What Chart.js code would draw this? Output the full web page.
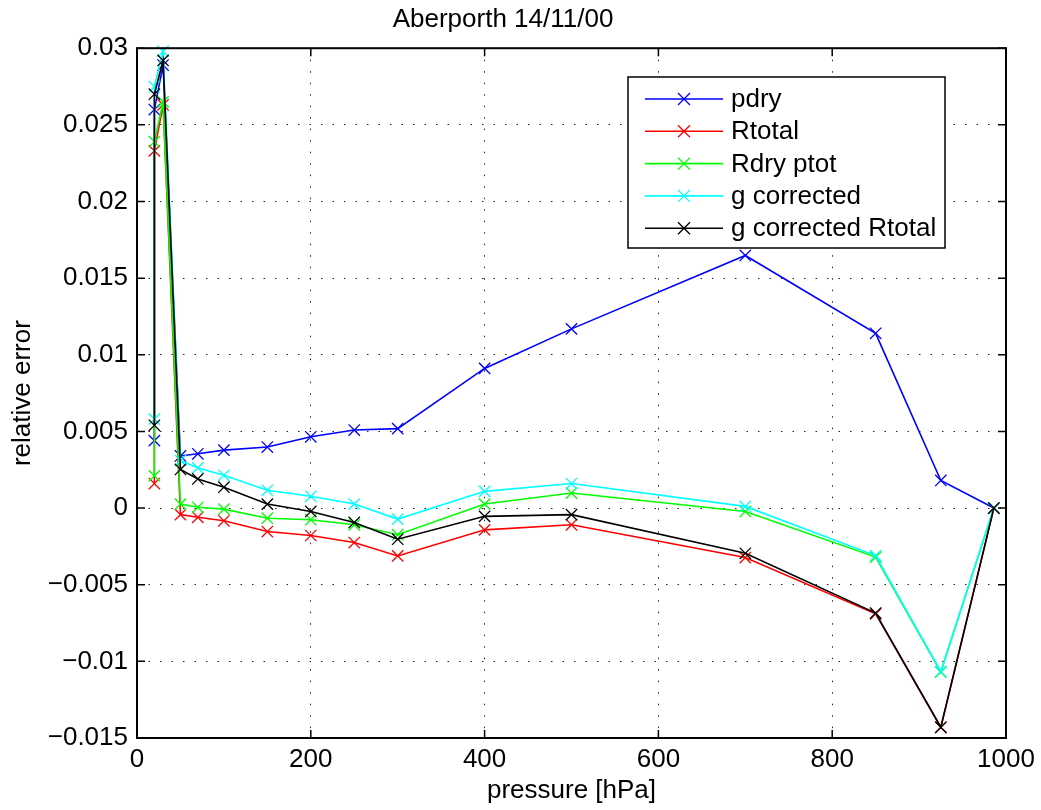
<!DOCTYPE html>
<html>
<head>
<meta charset="utf-8">
<script src="https://cdn.jsdelivr.net/npm/chart.js@4"></script>
<style>
  body { margin: 0; background: #fff; }
  #wrap { width: 1041px; height: 810px; }
</style>
</head>
<body>
<div id="wrap"><canvas id="chart"></canvas></div>
<script>
// pressure levels [hPa] (the first level is repeated in the sounding)
const pressure = [20, 20, 30, 50, 70, 100, 150, 200, 250, 300, 400, 500, 700, 850, 925, 986];

const pdry      = [0.0044, 0.0260, 0.0289, 0.0034, 0.00354, 0.00378, 0.00398, 0.00465, 0.00509, 0.00518, 0.00911, 0.01169, 0.01648, 0.0114, 0.0018, 0];
const Rtotal    = [0.0016, 0.0233, 0.0263, -0.00043, -0.0006, -0.00083, -0.00153, -0.00179, -0.00225, -0.00312, -0.00142, -0.00109, -0.00323, -0.0069, -0.0143, 0];
const RdryPtot  = [0.0021, 0.0239, 0.0265, 0.00026, 0.00005, -0.00007, -0.00066, -0.00076, -0.00109, -0.00174, 0.00026, 0.00098, -0.00022, -0.0032, -0.0107, 0];
const gCorr     = [0.0058, 0.0275, 0.0298, 0.0031, 0.00262, 0.00214, 0.00116, 0.00077, 0.00026, -0.00072, 0.00109, 0.0016, 0.00011, -0.0031, -0.01066, 0];
const gCorrRtot = [0.0054, 0.0270, 0.0292, 0.00252, 0.0019, 0.00136, 0.00026, -0.00022, -0.00094, -0.00203, -0.00054, -0.00043, -0.00295, -0.00685, -0.0143, 0];

const seriesNames  = ['pdry', 'Rtotal', 'Rdry ptot', 'g corrected', 'g corrected Rtotal'];
const seriesValues = [pdry, Rtotal, RdryPtot, gCorr, gCorrRtot];
const seriesColors = ['#0000ff', '#ff0000', '#00ff00', '#00ffff', '#000000'];

const xTicks = [0, 200, 400, 600, 800, 1000];
const yTicks = [-0.015, -0.01, -0.005, 0, 0.005, 0.01, 0.015, 0.02, 0.025, 0.03];

const FONT = 'Liberation Sans, Arial, Helvetica, sans-serif';
const FSIZE = 26;

function fmt(v) {
  const r = Math.round(v * 1000) / 1000;
  if (r === 0) return '0';
  return (r < 0 ? '\u2212' : '') + String(Math.abs(r));
}

const datasets = seriesNames.map((name, i) => ({
  label: name,
  data: pressure.map((p, j) => ({ x: p, y: seriesValues[i][j] })),
  borderColor: seriesColors[i],
  backgroundColor: seriesColors[i],
  borderWidth: 1.6,
  pointStyle: 'crossRot',
  pointRadius: 8,
  pointBorderWidth: 1.3,
  pointHoverRadius: 8,
  tension: 0,
  clip: 10,
  order: seriesNames.length - i   // later series drawn on top, like matlab
}));

// box + inward tick marks
const boxPlugin = {
  id: 'box',
  afterDraw(chart) {
    const { ctx, chartArea: a, scales } = chart;
    ctx.save();
    ctx.strokeStyle = '#000';
    ctx.lineWidth = 1.5;
    ctx.beginPath();
    xTicks.forEach(t => {
      const px = scales.x.getPixelForValue(t);
      ctx.moveTo(px, a.bottom); ctx.lineTo(px, a.bottom - 8);
      ctx.moveTo(px, a.top); ctx.lineTo(px, a.top + 8);
    });
    yTicks.forEach(t => {
      const py = scales.y.getPixelForValue(t);
      ctx.moveTo(a.left, py); ctx.lineTo(a.left + 8, py);
      ctx.moveTo(a.right, py); ctx.lineTo(a.right - 8, py);
    });
    ctx.stroke();
    ctx.lineWidth = 2;
    ctx.strokeRect(a.left, a.top, a.right - a.left, a.bottom - a.top);
    ctx.restore();
  }
};

// matlab style legend box in the upper right
const legendPlugin = {
  id: 'mlegend',
  afterDraw(chart) {
    const ctx = chart.ctx;
    const bx = 628, by = 77, bw = 317, bh = 171;
    ctx.save();
    ctx.fillStyle = '#fff';
    ctx.fillRect(bx, by, bw, bh);
    ctx.strokeStyle = '#000';
    ctx.lineWidth = 1.5;
    ctx.strokeRect(bx, by, bw, bh);
    ctx.font = FSIZE + 'px ' + FONT;
    ctx.textBaseline = 'middle';
    chart.data.datasets.forEach((ds, i) => {
      const y = 99 + i * 32.3;
      ctx.strokeStyle = ds.borderColor;
      ctx.lineWidth = 1.6;
      ctx.beginPath();
      ctx.moveTo(645, y); ctx.lineTo(723, y);
      ctx.stroke();
      ctx.lineWidth = 1.3;
      ctx.beginPath();
      ctx.moveTo(678, y - 6); ctx.lineTo(690, y + 6);
      ctx.moveTo(678, y + 6); ctx.lineTo(690, y - 6);
      ctx.stroke();
      ctx.fillStyle = '#000';
      ctx.fillText(ds.label, 731, y + 1);
    });
    ctx.restore();
  }
};

new Chart(document.getElementById('chart'), {
  type: 'line',
  data: { datasets },
  options: {
    responsive: true,
    maintainAspectRatio: false,
    animation: false,
    layout: { padding: { left: 0, right: 35, top: 0, bottom: 0 } },
    plugins: {
      legend: { display: false },
      tooltip: { enabled: false },
      title: {
        display: true,
        text: 'Aberporth 14/11/00',
        color: '#000',
        font: { family: FONT, size: FSIZE, weight: 'normal' },
        padding: { top: 4, bottom: 13 }
      }
    },
    scales: {
      x: {
        type: 'linear',
        min: 0, max: 1000,
        afterBuildTicks: s => { s.ticks = xTicks.map(v => ({ value: v })); },
        afterFit: s => { s.height = 72; },
        ticks: { color: '#000', font: { family: FONT, size: FSIZE }, padding: 6, maxRotation: 0, callback: v => String(v) },
        grid: { color: '#222', lineWidth: 1, drawTicks: false },
        border: { display: false, dash: [1.5, 10] },
        title: { display: true, text: 'pressure [hPa]', color: '#000', font: { family: FONT, size: FSIZE }, padding: { top: 0, bottom: 4 } }
      },
      y: {
        type: 'linear',
        min: -0.015, max: 0.03,
        afterBuildTicks: s => { s.ticks = yTicks.map(v => ({ value: v })); },
        afterFit: s => { s.width = 137; },
        ticks: { color: '#000', font: { family: FONT, size: FSIZE }, padding: 9, callback: v => fmt(v) },
        grid: { color: '#222', lineWidth: 1, drawTicks: false },
        border: { display: false, dash: [1.5, 10] },
        title: { display: true, text: 'relative error', color: '#000', font: { family: FONT, size: FSIZE }, padding: { top: 7, bottom: 6 } }
      }
    }
  },
  plugins: [boxPlugin, legendPlugin]
});
</script>
</body>
</html>
